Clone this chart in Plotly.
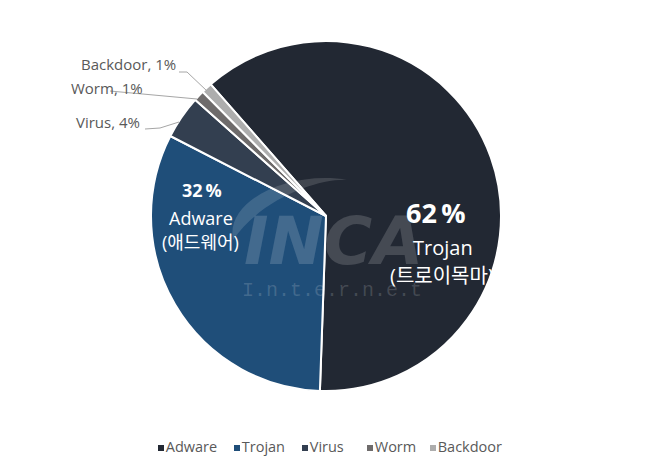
import plotly.graph_objects as go

# slice data (clockwise from the Trojan/Backdoor edge)
slice_labels = ["Trojan", "Adware", "Virus", "Worm", "Backdoor"]
slice_values = [62, 32, 4, 1, 1]
slice_colors = ["#222833", "#1f4e79", "#333f50", "#6e6b6b", "#adadad"]

# legend as shown on the original chart
legend_labels = ["Adware", "Trojan", "Virus", "Worm", "Backdoor"]
legend_colors = ["#222833", "#1f4e79", "#333f50", "#6e6b6b", "#adadad"]

W, H = 650, 471
OFF = 8  # page body margin
CX, CY, R = 326, 216, 175
TXT = "#595959"
FONT = "Open Sans, Noto Sans CJK KR, sans-serif"

fig = go.Figure()

ycf = 1 - (CY - OFF) / H
fig.add_trace(go.Pie(
    labels=slice_labels,
    values=slice_values,
    sort=False,
    direction="clockwise",
    rotation=-41.2,
    marker=dict(colors=slice_colors, line=dict(color="white", width=2)),
    textinfo="none",
    hoverinfo="label+percent",
    showlegend=False,
    domain=dict(x=[(CX - OFF - R) / W, (CX - OFF + R) / W],
                y=[ycf - R / H, ycf + R / H]),
))

# legend row drawn on a hidden pixel axis
legend_x = [161, 237, 305, 370, 433]
fig.add_trace(go.Scatter(
    x=legend_x, y=[448] * len(legend_x),
    mode="markers+text",
    marker=dict(symbol="square", size=6, color=legend_colors),
    text=legend_labels,
    textposition="middle right",
    textfont=dict(family=FONT, size=14.5, color=TXT),
    hoverinfo="skip",
    showlegend=False,
))

fig.update_xaxes(range=[OFF, W + OFF], visible=False, fixedrange=True)
fig.update_yaxes(range=[H + OFF, OFF], visible=False, fixedrange=True)

ann = []
# watermark
ann.append(dict(x=333, y=241, text="INCA", showarrow=False,
                font=dict(family="DejaVu Sans", size=66, weight="bold", style="italic",
                          color="rgba(255,255,255,0.16)")))
ann.append(dict(x=332, y=290, text="I.n.t.e.r.n.e.t", showarrow=False,
                font=dict(family="Liberation Mono", size=20, color="rgba(255,255,255,0.16)")))

# inside labels
ann.append(dict(x=436, y=212, text="<b>62\u2009%</b>", showarrow=False,
                font=dict(family=FONT, size=27, color="white")))
ann.append(dict(x=443, y=247, text="Trojan", showarrow=False,
                font=dict(family=FONT, size=20, color="white")))
ann.append(dict(x=442, y=275, text="(트로이목마)", showarrow=False,
                font=dict(family=FONT, size=20, color="white")))
ann.append(dict(x=202, y=190, text="<b>32\u2009%</b>", showarrow=False,
                font=dict(family=FONT, size=18, color="white")))
ann.append(dict(x=201, y=218, text="Adware", showarrow=False,
                font=dict(family=FONT, size=18, color="white")))
ann.append(dict(x=200, y=242, text="(애드웨어)", showarrow=False,
                font=dict(family=FONT, size=18, color="white")))

# outside labels
ann.append(dict(x=178, y=64, text="Backdoor, 1%", xanchor="right", showarrow=False,
                font=dict(family=FONT, size=15, color=TXT)))
ann.append(dict(x=145, y=88, text="Worm, 1%", xanchor="right", showarrow=False,
                font=dict(family=FONT, size=15, color=TXT)))
ann.append(dict(x=142, y=122, text="Virus, 4%", xanchor="right", showarrow=False,
                font=dict(family=FONT, size=15, color=TXT)))
for a in ann:
    a.update(xref="x", yref="y")

leader = dict(color="#a6a6a6", width=1)
shapes = [
    dict(type="path", path="M 179,72 L 187,72 L 207,91", line=leader),
    dict(type="path", path="M 110,91 L 197,99", line=leader),
    dict(type="path", path="M 145,129 L 160,128 L 179,122", line=leader),
    # watermark swoosh
    dict(type="path", path="M 233,240 C 225,200 290,170 348,180 C 320,178 262,198 233,240 Z",
         fillcolor="rgba(255,255,255,0.14)", line=dict(width=0)),
]
for s in shapes:
    s.update(xref="x", yref="y", layer="above")

fig.update_layout(
    width=W, height=H,
    margin=dict(l=0, r=0, t=0, b=0),
    paper_bgcolor="white", plot_bgcolor="white",
    annotations=ann, shapes=shapes,
)

fig.write_html("out.html")
